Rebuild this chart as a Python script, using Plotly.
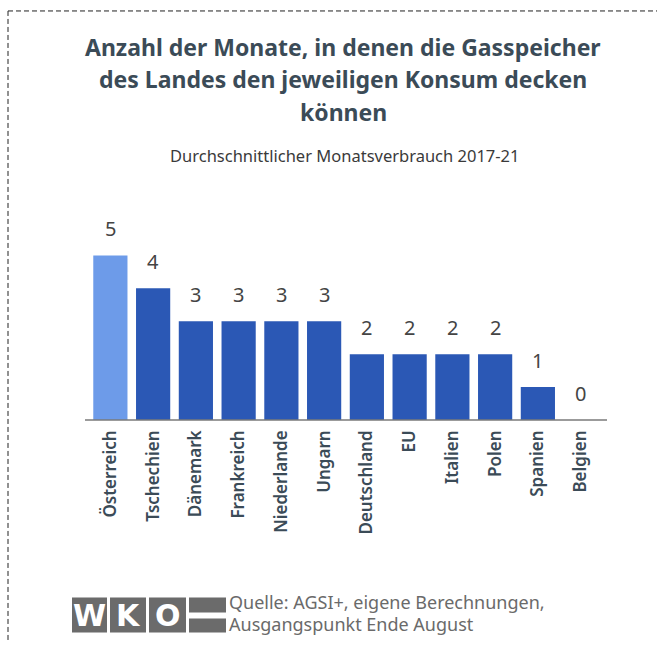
import plotly.graph_objects as go

categories = ["Österreich", "Tschechien", "Dänemark", "Frankreich", "Niederlande", "Ungarn",
              "Deutschland", "EU", "Italien", "Polen", "Spanien", "Belgien"]
values = [5, 4, 3, 3, 3, 3, 2, 2, 2, 2, 1, 0]
highlight = "Österreich"

title_lines = ["Anzahl der Monate, in denen die Gasspeicher",
               "des Landes den jeweiligen Konsum decken",
               "können"]
subtitle = "Durchschnittlicher Monatsverbrauch 2017-21"
source_lines = ["Quelle: AGSI+, eigene Berechnungen,", "Ausgangspunkt Ende August"]

W, H = 657, 646
L, R = 89, 602          # plot area left/right (px)
Y0 = 420                # baseline pixel
PPU = 33                # pixels per unit
YMAX = 6.5
T = Y0 - YMAX * PPU

def fx(px):
    return (px - L) / (R - L)

def fy(py):
    return (Y0 - py) / (Y0 - T)

LIGHT = "#6d9be9"
DARK = "#2b58b5"
colors = [LIGHT if c == highlight else DARK for c in categories]

FONT = "Noto Sans"

fig = go.Figure(go.Bar(
    x=categories, y=values, marker=dict(color=colors, line=dict(width=0)),
    hoverinfo="skip",
))

annotations = []
for c, v in zip(categories, values):
    annotations.append(dict(x=c, y=v, xref="x", yref="y", text=str(v), showarrow=False,
                            yanchor="bottom", yshift=11,
                            font=dict(family=FONT, size=20, color="#444444")))

title_y = [46, 78, 111]
for t, py in zip(title_lines, title_y):
    annotations.append(dict(x=fx(343), y=fy(py), xref="paper", yref="paper", text=t,
                            showarrow=False, xanchor="center", yanchor="middle",
                            font=dict(family=FONT, size=23, color="#3b4b57", weight="bold")))
annotations.append(dict(x=fx(344), y=fy(155), xref="paper", yref="paper", text=subtitle,
                        showarrow=False, xanchor="center", yanchor="middle",
                        font=dict(family=FONT, size=16.5, color="#3a3a3a")))
for t, py in zip(source_lines, [602, 624]):
    annotations.append(dict(x=fx(227), y=fy(py), xref="paper", yref="paper", text=t,
                            showarrow=False, xanchor="left", yanchor="middle",
                            font=dict(family=FONT, size=18, color="#6a6a6a")))

GRAY = "#6b6b6b"
shapes = []
boxes = [(72, 107, "W"), (110, 146, "K"), (149, 186, "O")]
for x0, x1, letter in boxes:
    shapes.append(dict(type="rect", xref="paper", yref="paper", x0=fx(x0), x1=fx(x1),
                       y0=fy(633), y1=fy(598), fillcolor=GRAY, line=dict(width=0)))
    annotations.append(dict(x=fx((x0 + x1) / 2), y=fy(616), xref="paper", yref="paper",
                            text=letter, showarrow=False, xanchor="center", yanchor="middle",
                            font=dict(family="DejaVu Sans", size=30, color="white", weight="bold")))
shapes.append(dict(type="rect", xref="paper", yref="paper", x0=fx(189), x1=fx(226),
                   y0=fy(613), y1=fy(598), fillcolor=GRAY, line=dict(width=0)))
shapes.append(dict(type="rect", xref="paper", yref="paper", x0=fx(189), x1=fx(226),
                   y0=fy(633), y1=fy(619), fillcolor=GRAY, line=dict(width=0)))

# dashed frame
shapes.append(dict(type="line", xref="paper", yref="paper", x0=fx(8), x1=fx(657),
                   y0=fy(10), y1=fy(10), line=dict(color="#222222", width=1, dash="5px,3px")))
shapes.append(dict(type="line", xref="paper", yref="paper", x0=fx(8), x1=fx(8),
                   y0=fy(10), y1=fy(642), line=dict(color="#222222", width=1, dash="5px,3px")))
# axis baseline
shapes.append(dict(type="line", xref="paper", yref="paper", x0=fx(85), x1=fx(607),
                   y0=fy(420), y1=fy(420), line=dict(color="#7a7a7a", width=1.5)))

fig.update_layout(
    width=W, height=H,
    margin=dict(l=L, r=W - R, t=T, b=H - Y0, pad=0),
    paper_bgcolor="white", plot_bgcolor="white",
    bargap=0.2, showlegend=False,
    xaxis=dict(tickangle=-90, showgrid=False, showline=False, ticks="", ticklen=0,
               ticklabelstandoff=6,
               tickfont=dict(family=FONT, size=17, color="#3b4b57", weight=600)),
    yaxis=dict(range=[0, YMAX], visible=False, showgrid=False, zeroline=False),
    annotations=annotations, shapes=shapes,
)

fig.write_html("out.html")
